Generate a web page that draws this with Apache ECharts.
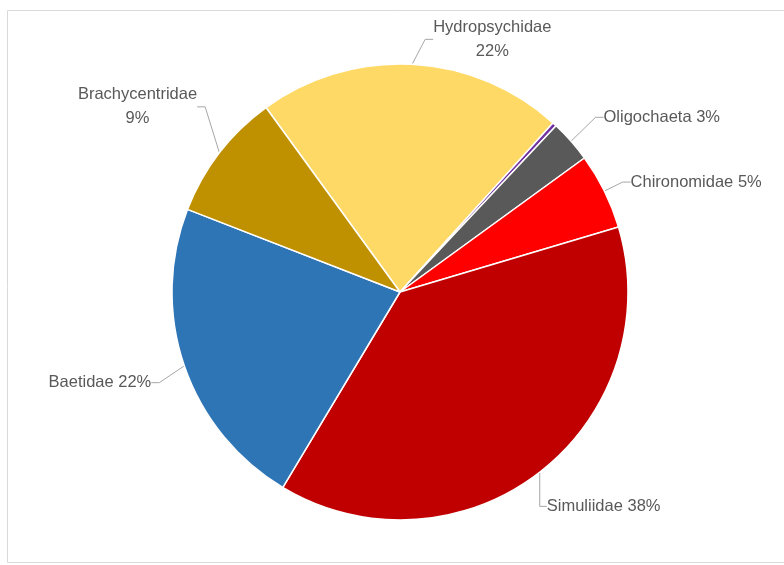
<!DOCTYPE html>
<html>
<head>
<meta charset="utf-8">
<script src="https://cdn.jsdelivr.net/npm/echarts@6/dist/echarts.min.js"></script>
<style>
html,body{margin:0;padding:0;background:#fff;}
#chart{width:784px;height:565px;}
</style>
</head>
<body>
<div id="chart"></div>
<script>
const categories = ['Hydropsychidae', 'Other', 'Oligochaeta', 'Chironomidae', 'Simuliidae', 'Baetidae', 'Brachycentridae'];
const values = [21.7, 0.3, 3.0, 5.4, 38.2, 22.3, 9.1];
const colors = ['#FFD966', '#7030A0', '#595959', '#FF0000', '#C00000', '#2E75B6', '#BF9000'];
const twoLine = ['Hydropsychidae', 'Brachycentridae'];
const hiddenLabels = ['Other'];

// label nudges (pixels) relative to ECharts' default outside placement
const labelNudge = {
  'Hydropsychidae': { dx: 7, dy: -7, center: true },
  'Brachycentridae': { dx: 5, dy: -35, center: true },
  'Oligochaeta': { dx: 6, dy: -12 },
  'Chironomidae': { dx: -3, dy: -1 },
  'Simuliidae': { dx: -17, dy: 20 },
  'Baetidae': { dx: -3, dy: 11 }
};

const chart = echarts.init(document.getElementById('chart'));
chart.setOption({
  animation: false,
  graphic: [{
    type: 'rect',
    shape: { x: 7.5, y: 10.5, width: 800, height: 552 },
    style: { fill: 'none', stroke: '#d9d9d9', lineWidth: 1 },
    silent: true
  }],
  series: [{
    type: 'pie',
    center: [400, 292],
    radius: 228,
    startAngle: 126,
    clockwise: true,
    avoidLabelOverlap: false,
    itemStyle: { borderColor: '#ffffff', borderWidth: 1.5 },
    label: {
      show: true,
      position: 'outside',
      color: '#595959',
      fontFamily: 'Liberation Sans',
      fontSize: 16.5,
      lineHeight: 24,
      formatter: function (p) {
        const pct = Math.round(p.percent) + '%';
        return twoLine.indexOf(p.name) >= 0 ? p.name + '\n' + pct : p.name + ' ' + pct;
      }
    },
    labelLine: {
      show: true,
      length: 18,
      length2: 8,
      lineStyle: { color: '#a6a6a6', width: 1 }
    },
    labelLayout: function (p) {
      const cfg = labelNudge[categories[p.dataIndex]];
      if (!cfg) return {};
      const r = p.labelRect;
      if (cfg.center) {
        return {
          x: r.x + r.width / 2 + cfg.dx,
          y: r.y + r.height / 2 + cfg.dy,
          align: 'center',
          verticalAlign: 'middle'
        };
      }
      return {
        x: r.x + cfg.dx,
        y: r.y + r.height / 2 + cfg.dy,
        align: 'left',
        verticalAlign: 'middle'
      };
    },
    data: categories.map(function (c, i) {
      const d = { name: c, value: values[i], itemStyle: { color: colors[i] } };
      if (hiddenLabels.indexOf(c) >= 0) {
        d.label = { show: false };
        d.labelLine = { show: false };
      }
      return d;
    })
  }]
});
</script>
</body>
</html>
